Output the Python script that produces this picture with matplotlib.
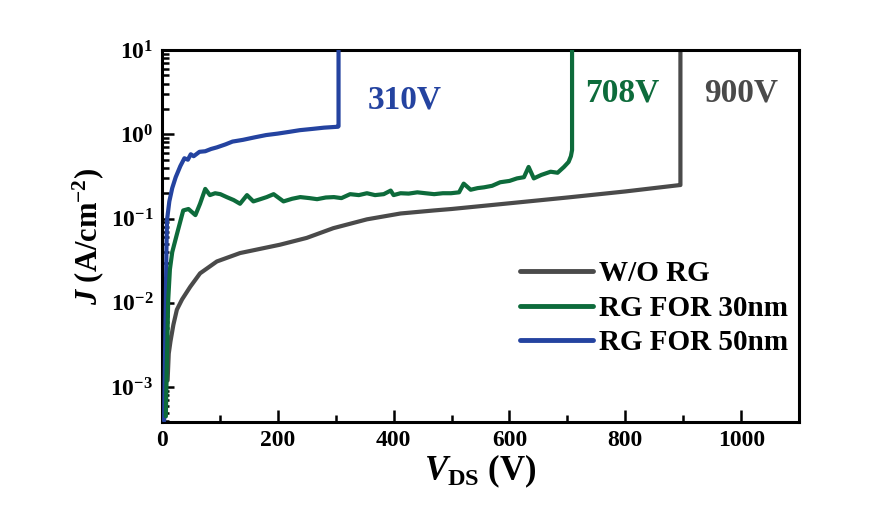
import matplotlib
matplotlib.use("Agg")
import matplotlib.pyplot as plt
from matplotlib.ticker import LogLocator, MultipleLocator, NullFormatter

plt.rcParams['font.family'] = ['Liberation Serif', 'DejaVu Serif']
plt.rcParams['font.weight'] = 'bold'
plt.rcParams['mathtext.fontset'] = 'custom'
plt.rcParams['mathtext.rm'] = 'Liberation Serif:bold'
plt.rcParams['mathtext.bf'] = 'Liberation Serif:bold'
plt.rcParams['mathtext.it'] = 'Liberation Serif:bold:italic'

# ---- data ----
labels = ["W/O RG", "RG FOR 30nm", "RG FOR 50nm"]
colors = ["#4a4a4a", "#0d6b3b", "#2443a0"]

gray_v = [10, 12, 15, 20, 26, 35, 49, 66, 95, 135, 204, 250, 296, 354, 412,
          470, 500, 600, 700, 800, 894, 895, 895]
gray_j = [0.0012, 0.0025, 0.0035, 0.0055, 0.0083, 0.011, 0.0155, 0.0224, 0.031,
          0.039, 0.049, 0.059, 0.077, 0.098, 0.115, 0.125, 0.13, 0.152, 0.178,
          0.21, 0.25, 0.25, 30]

green_v = [7, 8.6, 11, 14, 18, 26, 37, 46, 58, 66, 75, 83, 92, 101, 112, 124, 135,
           147, 158, 170, 181, 193, 210, 225, 239, 255, 268, 283, 297, 310, 325,
           340, 354, 368, 383, 395, 400, 412, 426, 441, 455, 470, 485, 499, 513,
           521, 533, 545, 556, 570, 584, 600, 613, 625, 633, 642, 655, 671, 683,
           694, 702, 706, 708, 708]
green_j = [4.5e-4, 0.0017, 0.0107, 0.025, 0.04, 0.065, 0.125, 0.13, 0.11, 0.15,
           0.225, 0.19, 0.2, 0.195, 0.18, 0.166, 0.15, 0.19, 0.16, 0.17, 0.18,
           0.195, 0.16, 0.172, 0.18, 0.175, 0.17, 0.178, 0.18, 0.175, 0.195, 0.19,
           0.2, 0.19, 0.195, 0.215, 0.19, 0.2, 0.198, 0.205, 0.2, 0.195, 0.2, 0.2,
           0.205, 0.26, 0.22, 0.23, 0.235, 0.245, 0.27, 0.28, 0.3, 0.31, 0.41, 0.3,
           0.33, 0.36, 0.35, 0.41, 0.47, 0.55, 0.65, 30]

blue_v = [4, 6, 7, 8, 9, 13, 18, 24, 32, 39, 45, 50, 55, 65, 75, 85, 95, 110, 122,
          140, 160, 180, 200, 220, 238, 260, 280, 304, 305, 305]
blue_j = [4e-4, 0.004, 0.011, 0.043, 0.096, 0.16, 0.23, 0.31, 0.42, 0.52, 0.5,
          0.58, 0.55, 0.62, 0.63, 0.67, 0.7, 0.76, 0.82, 0.86, 0.92, 0.98, 1.02,
          1.07, 1.12, 1.16, 1.2, 1.23, 1.25, 30]

annot_text = ["310V", "708V", "900V"]
annot_x = [419, 795, 1000]
annot_y = [2.55, 3.09, 3.09]

# ---- figure ----
fig = plt.figure(figsize=(8.89, 5.16), dpi=100)
ax = fig.add_axes([0.182, 0.182, 0.717, 0.721])

lw = 3.0
ax.plot(gray_v, gray_j, color=colors[0], lw=lw, label=labels[0], zorder=2,
        solid_capstyle='round', solid_joinstyle='round')
ax.plot(green_v, green_j, color=colors[1], lw=lw, label=labels[1], zorder=4,
        solid_capstyle='round', solid_joinstyle='round')
ax.plot(blue_v, blue_j, color=colors[2], lw=lw, label=labels[2], zorder=3,
        solid_capstyle='round', solid_joinstyle='round')

ax.set_yscale('log')
ax.set_xlim(0, 1100)
ax.set_ylim(3.85e-4, 10)

ax.xaxis.set_major_locator(MultipleLocator(200))
ax.xaxis.set_minor_locator(MultipleLocator(100))
ax.yaxis.set_major_locator(LogLocator(base=10, numticks=10))
ax.yaxis.set_minor_locator(LogLocator(base=10, subs=range(2, 10), numticks=20))
ax.yaxis.set_minor_formatter(NullFormatter())

ax.tick_params(which='both', direction='in', top=False, right=False, width=1.8)
ax.tick_params(which='major', length=8.5, labelsize=17, pad=6)
ax.tick_params(which='minor', length=5)
for lab in ax.get_xticklabels() + ax.get_yticklabels():
    lab.set_fontweight('bold')

for s in ax.spines.values():
    s.set_linewidth(2.2)

ax.set_xlabel(r'$V_{\mathrm{DS}}$ (V)', fontsize=25, fontweight='bold', labelpad=1)
ax.set_ylabel(r'$J$ (A/cm$^{-2}$)', fontsize=22, fontweight='bold', labelpad=3)

for t, x, y, c in zip(annot_text, annot_x, annot_y, colors[::-1]):
    ax.text(x, y, t, color=c, fontsize=24, fontweight='bold', ha='center', va='center')

leg = ax.legend(loc='center left', bbox_to_anchor=(0.562, 0.306), frameon=False,
                fontsize=21, handlelength=2.5, handletextpad=0.2, labelspacing=0.25,
                borderpad=0, borderaxespad=0)
for t in leg.get_texts():
    t.set_fontweight('bold')
for h in leg.get_lines():
    h.set_linewidth(3.5)
    h.set_solid_capstyle('round')

fig.savefig('out.png', dpi=100)
